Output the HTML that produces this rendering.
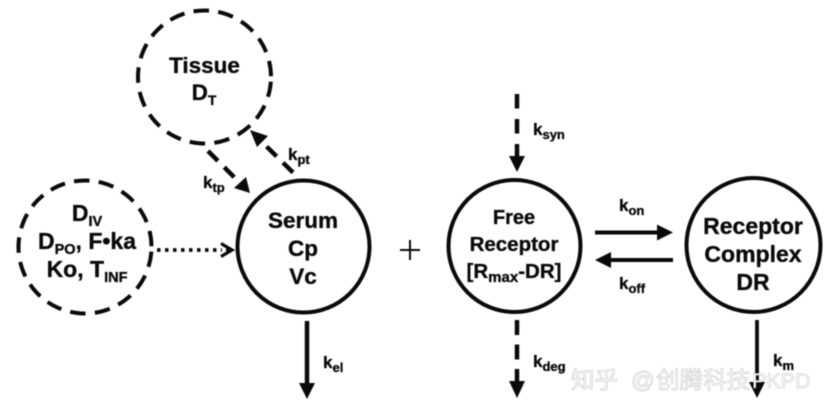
<!DOCTYPE html>
<html><head><meta charset="utf-8">
<style>
html,body{margin:0;padding:0;background:#fff;width:832px;height:412px;overflow:hidden}
svg{display:block;filter:blur(.4px)}
text{font-family:"Liberation Sans",sans-serif;font-weight:bold;fill:#0a0a0a;stroke:#0a0a0a;stroke-width:.35px;text-anchor:middle}
.k{font-size:17px;text-anchor:start}
.k tspan{font-size:13px}
.wm{font-family:"Liberation Sans","WenQuanYi Zen Hei","Noto Sans CJK SC",sans-serif;font-weight:normal;font-size:23.5px;fill:#fff;stroke:#bbb;stroke-width:.5px;text-anchor:start}
</style></head><body>
<svg width="832" height="412" viewBox="0 0 832 412" xmlns="http://www.w3.org/2000/svg">
<rect width="832" height="412" fill="#fff"/>
<g fill="none" stroke="#0a0a0a">
<circle cx="204.5" cy="77" r="66.5" stroke-width="4" stroke-dasharray="15.5 9.3" transform="rotate(4 204.5 77)"/>
<circle cx="85" cy="247" r="66.5" stroke-width="4" stroke-dasharray="15.5 9.3" transform="rotate(4 85 247)"/>
<circle cx="303.5" cy="246.5" r="66" stroke-width="4"/>
<circle cx="514.5" cy="246" r="66" stroke-width="4"/>
<circle cx="753.5" cy="245" r="67" stroke-width="4"/>
<path d="M293 172.500L265 145" stroke-width="4.500" stroke-dasharray="14 9"/>
<path d="M208 151L238 181" stroke-width="4.500" stroke-dasharray="14 9"/>
<path d="M157 250H222" stroke-width="3.800" stroke-dasharray="3.500 4.500"/>
<path d="M221 243.500L232 250L221 256.500" stroke-width="3.200"/>
<path d="M307 321V385" stroke-width="4.500"/>
<path d="M517 94V158" stroke-width="4.500" stroke-dasharray="14.500 10.500"/>
<path d="M517 320V383" stroke-width="4.500" stroke-dasharray="15 9.500"/>
<path d="M757 320V384" stroke-width="3.800"/>
<path d="M595 232.500H660" stroke-width="4"/>
<path d="M673 260H609" stroke-width="4"/>
<path d="M400 250H420M410 240V260" stroke-width="2"/>
</g>
<g fill="#0a0a0a">
<path d="M235 250L226 245V255Z"/>
<path d="M250 130L268 136L257 147Z"/>
<path d="M250 193L234 188L246 177Z"/>
<path d="M307 399L299 383H315Z"/>
<path d="M517 172L509 156H525Z"/>
<path d="M517 398L509 381H525Z"/>
<path d="M757 398L749 382H765Z"/>
<path d="M673 232.500L657 224.500V240.500Z"/>
<path d="M595 260L611 252V268Z"/>
</g>
<text x="204.500" y="73" font-size="22.500">Tissue</text>
<text x="204" y="100" font-size="22.500">D<tspan font-size="14" dy="5">T</tspan></text>
<text x="87" y="221" font-size="23">D<tspan font-size="14.500" dy="5">IV</tspan></text>
<text x="87" y="249" font-size="23">D<tspan font-size="14.500" dy="5">PO</tspan><tspan dy="-5">, F•ka</tspan></text>
<text x="87" y="277" font-size="23">Ko, T<tspan font-size="14.500" dy="5">INF</tspan></text>
<text x="303" y="228" font-size="22.500">Serum</text>
<text x="303" y="256" font-size="22.500">Cp</text>
<text x="303" y="284" font-size="22.500">Vc</text>
<text x="514" y="224" font-size="20">Free</text>
<text x="514" y="251" font-size="20.500">Receptor</text>
<text x="514" y="278" font-size="20.500">[R<tspan font-size="15" dy="4">max</tspan><tspan dy="-4">-DR]</tspan></text>
<text x="753" y="234" font-size="23">Receptor</text>
<text x="753" y="262" font-size="23">Complex</text>
<text x="753" y="290" font-size="23">DR</text>
<text class="k" x="203" y="188">k<tspan dy="4">tp</tspan></text>
<text class="k" x="288" y="160">k<tspan dy="4">pt</tspan></text>
<text class="k" x="323" y="368">k<tspan dy="4">el</tspan></text>
<text class="k" x="533" y="135">k<tspan dy="4">syn</tspan></text>
<text class="k" x="619" y="211">k<tspan dy="4">on</tspan></text>
<text class="k" x="619" y="289">k<tspan dy="4">off</tspan></text>
<text class="k" x="533" y="367">k<tspan dy="4">deg</tspan></text>
<text class="k" x="773" y="366">k<tspan dy="4">m</tspan></text>
<text class="wm" x="571" y="388">知乎 <tspan x="631">@</tspan><tspan x="656">创腾科技</tspan><tspan x="752" font-size="21.500">PKPD</tspan></text>
</svg>
</body></html>
